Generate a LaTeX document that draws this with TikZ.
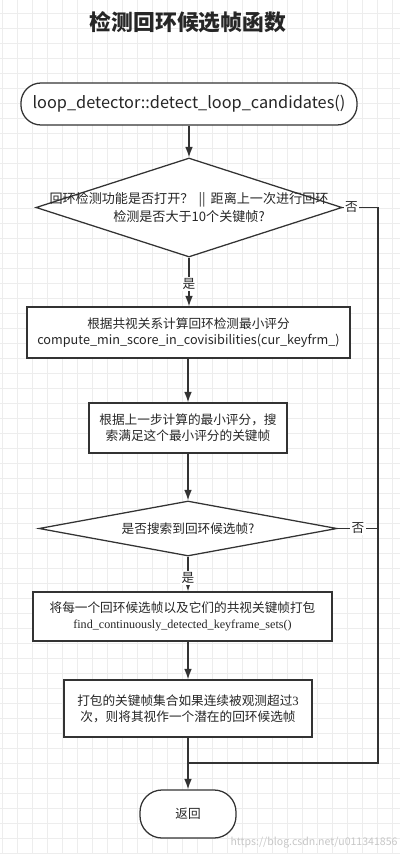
\documentclass[tikz,border=0pt]{standalone}
\usepackage{fontspec}
\setmainfont{Noto Sans CJK SC}
\newfontfamily\codeserif{Liberation Serif}
\usetikzlibrary{shapes.geometric, arrows.meta, positioning}

\begin{document}
\begin{tikzpicture}[
    x=0.025cm, y=-0.025cm,
    every node/.style={text=black!85},
    terminal/.style={rectangle, draw=black!80, line width=0.9pt, fill=white, rounded corners=0.5cm, font=\fontsize{11.6}{14}\selectfont},
    block/.style={rectangle, draw=black!80, line width=0.9pt, fill=white, align=center, font=\fontsize{9}{11.6}\selectfont},
    decision/.style={diamond, draw=black!80, line width=0.9pt, fill=white, inner sep=0pt},
    line/.style={draw=black!80, line width=0.9pt, -{Latex[length=2.6mm,width=1.9mm]}},
    edge/.style={draw=black!80, line width=0.9pt},
    choice/.style={fill=white, inner sep=1pt, font=\fontsize{9}{11}\selectfont},
    gridline/.style={black!7, line width=0.4pt}
]
    \useasboundingbox (0,0) rectangle (400,854);
    \fill[white] (0,0) rectangle (400,854);

    % Background grid
    \foreach \gx in {2,17,...,400} \draw[gridline] (\gx,0) -- (\gx,854);
    \foreach \gy in {13,28,...,854} \draw[gridline] (0,\gy) -- (400,\gy);

    % Title
    \node[font=\fontsize{15.5}{18}\selectfont\bfseries] (title) at (188,22) {检测回环候选帧函数};

    % Nodes
    \node[terminal, minimum width=8.4cm, minimum height=1.05cm] (start) at (189,104) {loop\_detector::detect\_loop\_candidates()};
    \node[decision, minimum width=7.65cm, minimum height=2.475cm] (check) at (189,207.5) {};
    \node[align=center, font=\fontsize{9.3}{12.8}\selectfont] (checktext) at (189,208) {回环检测功能是否打开？\ \,||\ \,距离上一次进行回环\\检测是否大于10个关键帧?};
    \node[block, minimum width=8.075cm, minimum height=1.275cm] (minscore) at (188.5,332.5) {根据共视关系计算回环检测最小评分\\compute\_min\_score\_in\_covisibilities(cur\_keyfrm\_)};
    \node[block, minimum width=4.95cm, minimum height=1.25cm] (search) at (188,428) {根据上一步计算的最小评分，搜\\索满足这个最小评分的关键帧};
    \node[decision, minimum width=7.45cm, minimum height=1.375cm] (found) at (188,528.5) {};
    \node[font=\fontsize{9}{11}\selectfont] (foundtext) at (found) {是否搜索到回环候选帧?};
    \node[block, minimum width=7.475cm, minimum height=1.225cm] (pack) at (182.5,616.5) {将每一个回环候选帧以及它们的共视关键帧打包\\{\codeserif\fontsize{8.6}{11}\selectfont find\_continuously\_detected\_keyframe\_sets()}};
    \node[block, minimum width=6.2cm, minimum height=1.425cm] (potential) at (188,708.5) {打包的关键帧集合如果连续被观测超过{\codeserif 3}\\次，则将其视作一个潜在的回环候选帧};
    \node[terminal, minimum width=2.4cm, minimum height=1.2cm, rounded corners=0.55cm, font=\fontsize{9}{11}\selectfont] (finish) at (188,814) {返回};
    \coordinate (rail) at (378,0);
    \coordinate (merge) at (189,763);

    % Paths
    \path[line] (start) -- (check);
    \path[line] (check.south) -- node[choice, pos=0.54] {是} (check.south |- minscore.north);
    \path[line] (minscore.south -| search.north) -- (search.north);
    \path[line] (search) -- (found);
    \path[line] (found.south) -- node[choice, pos=0.61] {是} (found.south |- pack.north);
    \path[line] (potential.north |- pack.south) -- (potential.north);
    \path[line] (potential) -- (finish);
    \path[edge] (check.east) -- node[choice, pos=0.25] {否} (check.east -| rail) -- (rail |- merge) -- (merge);
    \path[edge] (found.east) -- node[choice, pos=0.5] {否} (found.east -| rail);

    % Watermark
    \node[text=black!22, font=\fontsize{7.5}{9}\selectfont] (mark) at (314,843) {https://blog.csdn.net/u011341856};
\end{tikzpicture}
\end{document}
